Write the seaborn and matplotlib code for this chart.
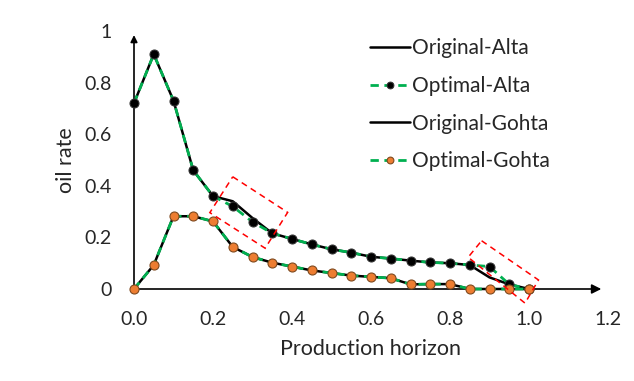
import matplotlib
matplotlib.use("Agg")
import matplotlib.pyplot as plt
import seaborn as sns
import pandas as pd
from matplotlib.patches import Polygon

# production horizon (normalised)
horizon = [0.0, 0.05, 0.1, 0.15, 0.2, 0.25, 0.3, 0.35, 0.4, 0.45, 0.5,
           0.55, 0.6, 0.65, 0.7, 0.75, 0.8, 0.85, 0.9, 0.95, 1.0]

original_alta = [0.72, 0.91, 0.73, 0.46, 0.36, 0.34, 0.275, 0.216, 0.194, 0.173, 0.154,
                 0.141, 0.125, 0.118, 0.11, 0.103, 0.10, 0.093, 0.045, 0.018, 0.0]
optimal_alta = [0.72, 0.91, 0.73, 0.46, 0.36, 0.32, 0.26, 0.216, 0.194, 0.173, 0.154,
                0.141, 0.125, 0.118, 0.11, 0.103, 0.10, 0.093, 0.087, 0.018, 0.0]
original_gohta = [0.0, 0.093, 0.282, 0.282, 0.262, 0.163, 0.124, 0.102, 0.087, 0.072, 0.062,
                  0.052, 0.047, 0.042, 0.018, 0.019, 0.019, 0.0, 0.0, 0.0, 0.0]
optimal_gohta = list(original_gohta)

# highlighted regions (rotated dashed boxes), corners in data units
box_1 = [(0.250, 0.435), (0.389, 0.297), (0.332, 0.158), (0.192, 0.296)]
box_2 = [(0.880, 0.187), (1.024, 0.035), (0.990, -0.055), (0.846, 0.123)]

FONT = ["Lato", "DejaVu Sans"]
GREEN = "#00b050"
ORANGE = "#ed7d31"

sns.set_style("white")
plt.rcParams["font.family"] = FONT

fig = plt.figure(figsize=(6.34, 3.81), dpi=100)
ax = fig.add_axes([134 / 634, 1 - 289 / 381, (608 - 134) / 634, (289 - 31) / 381])

df = pd.DataFrame({"x": horizon, "oa": original_alta, "pa": optimal_alta,
                   "og": original_gohta, "pg": optimal_gohta})

sns.lineplot(data=df, x="x", y="oa", ax=ax, color="black", lw=1.8,
             label="Original-Alta", clip_on=False, zorder=3)
sns.lineplot(data=df, x="x", y="pa", ax=ax, color=GREEN, lw=2, linestyle=(0, (3, 2)),
             marker="o", markersize=6.5, markerfacecolor="black", markeredgecolor="#333333",
             label="Optimal-Alta", clip_on=False, zorder=4)
sns.lineplot(data=df, x="x", y="og", ax=ax, color="black", lw=1.8,
             label="Original-Gohta", clip_on=False, zorder=3)
sns.lineplot(data=df, x="x", y="pg", ax=ax, color=GREEN, lw=2, linestyle=(0, (3, 2)),
             marker="o", markersize=6.5, markerfacecolor=ORANGE, markeredgecolor="#7f4a1f",
             markeredgewidth=0.8, label="Optimal-Gohta", clip_on=False, zorder=5)

for box in (box_1, box_2):
    ax.add_patch(Polygon(box, closed=True, fill=False, edgecolor="red", lw=1.1,
                         linestyle=(0, (4, 3)), clip_on=False, zorder=6))

ax.set_xlim(0, 1.2)
ax.set_ylim(0, 1)
ax.set_xticks([0, 0.2, 0.4, 0.6, 0.8, 1.0, 1.2])
ax.set_xticklabels(["0.0", "0.2", "0.4", "0.6", "0.8", "1.0", "1.2"])
ax.set_yticks([0, 0.2, 0.4, 0.6, 0.8, 1.0])
ax.set_yticklabels(["0", "0.2", "0.4", "0.6", "0.8", "1"])
ax.tick_params(labelsize=14, length=0)
ax.tick_params(axis="x", pad=16)
ax.tick_params(axis="y", pad=16)
for s in ax.spines.values():
    s.set_visible(False)

# axes drawn as arrows
ax.annotate("", xy=(1.19, 0), xytext=(0, 0),
            arrowprops=dict(arrowstyle="-|>", color="black", lw=1.2, mutation_scale=14),
            annotation_clip=False, zorder=1)
ax.annotate("", xy=(0, 0.995), xytext=(0, 0),
            arrowprops=dict(arrowstyle="-|>", color="black", lw=1.2, mutation_scale=10),
            annotation_clip=False, zorder=1)

ax.set_xlabel("Production horizon", fontsize=15.5, labelpad=8)
ax.set_ylabel("oil rate", fontsize=15.5, labelpad=6)

ax.legend(loc="upper left", bbox_to_anchor=(362 / 634, 1 - 30 / 381),
          bbox_transform=fig.transFigure, frameon=False, fontsize=15,
          handlelength=1.9, handletextpad=0.1, labelspacing=0.85, borderaxespad=0,
          markerscale=0.75)

fig.savefig("out.png", dpi=100)
